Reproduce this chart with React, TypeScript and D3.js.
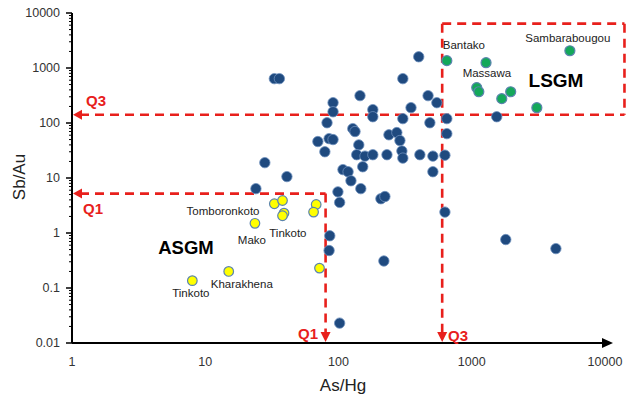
import React from "react";
import * as d3 from "d3";

const W = 631;
const H = 396;

// [As/Hg, Sb/Au]
const bluePoints: [number, number][] = [
  [33, 640], [36, 640], [28, 19], [24, 6.4], [41, 10.6], [70, 46], [85, 52], [91, 50],
  [79, 30], [82, 101], [91, 234], [91, 160], [145, 314], [128, 79], [133, 70], [142, 40],
  [137, 26.5], [158, 25], [181, 26.5], [181, 175], [181, 130], [152, 16], [108, 14.2],
  [118, 13], [124, 8.9], [147, 6.4], [99, 5.6], [102, 3.6], [208, 4.2], [223, 4.6],
  [86, 0.89], [85, 0.48], [102, 0.023], [219, 0.31], [239, 61], [274, 67], [289, 48],
  [304, 120], [304, 640], [400, 1600], [350, 190], [470, 314], [547, 234], [485, 101],
  [299, 31], [231, 26.5], [304, 23], [408, 26.5], [511, 25], [511, 13], [629, 26],
  [650, 120], [650, 64], [629, 2.4], [1540, 130], [1800, 0.76], [4280, 0.52],
];

const yellowPoints: [number, number][] = [
  [33, 3.4], [38, 3.9], [39, 2.3], [38, 2.06], [23.6, 1.5], [15, 0.2], [8, 0.136],
  [68, 3.3], [65, 2.4], [72, 0.23],
];

const greenPoints: [number, number][] = [
  [650, 1360], [1280, 1250], [5450, 2060], [1090, 440], [1130, 370], [1680, 277],
  [1960, 370], [3080, 190],
];

const xTicks = [1, 10, 100, 1000, 10000];
const yTicks = [0.01, 0.1, 1, 10, 100, 1000, 10000];

const Q1x = 80;
const Q3x = 600;
const Q1y = 5.2;
const Q3y = 141;
const boxTop = 6400;
const boxRight = 14000;

// site labels anchored in data space: [text, As/Hg, Sb/Au]
const siteLabels: [string, number, number][] = [
  ["Bantako", 873, 2650],
  ["Sambarabougou", 5260, 3550],
  ["Massawa", 1300, 820],
  ["Tomboronkoto", 13.6, 2.54],
  ["Mako", 22.4, 0.755],
  ["Tinkoto", 41.7, 1.01],
  ["Tinkoto", 7.8, 0.082],
  ["Kharakhena", 18.8, 0.12],
];

const RED = "#e8201c";
const FONT = "'Liberation Sans', Arial, sans-serif";

export default function App() {
  const x = d3.scaleLog().domain([1, 10000]).range([72, 605]);
  const y = d3.scaleLog().domain([0.01, 10000]).range([343, 13]);

  const minorY: number[] = [];
  for (let e = -2; e < 4; e++) {
    for (let k = 2; k <= 9; k++) minorY.push(k * Math.pow(10, e));
  }

  const dash = "9,6";
  const sw = 2.6;

  const arrowLeft = (px: number, py: number) =>
    `M${px},${py} L${px + 9},${py - 5} L${px + 9},${py + 5} Z`;
  const arrowDown = (px: number, py: number) =>
    `M${px},${py} L${px - 5},${py - 10} L${px + 5},${py - 10} Z`;

  const axisY = y(0.01);
  const axisX = x(1);

  return (
    <svg
      width={W}
      height={H}
      style={{ position: "absolute", left: 0, top: 0, background: "#fff" }}
      fontFamily={FONT}
    >
      {/* y axis */}
      <line x1={axisX} x2={axisX} y1={y(10000)} y2={axisY} stroke="#000" strokeWidth={2} />
      {minorY.map((v, i) => (
        <line key={"m" + i} x1={axisX - 3} x2={axisX} y1={y(v)} y2={y(v)} stroke="#000" strokeWidth={1} />
      ))}
      {yTicks.map((v) => (
        <g key={"yt" + v}>
          <line x1={axisX - 6} x2={axisX} y1={y(v)} y2={y(v)} stroke="#000" strokeWidth={1.5} />
          <text x={60} y={y(v)} dy="0.35em" textAnchor="end" fontSize={12.5} fill="#333">
            {String(v)}
          </text>
        </g>
      ))}
      {/* x axis */}
      <line x1={axisX} x2={604} y1={axisY} y2={axisY} stroke="#000" strokeWidth={2} />
      <path d={`M613,${axisY} L602,${axisY - 5} L602,${axisY + 5} Z`} fill="#000" />
      {xTicks.map((v) => (
        <text key={"xt" + v} x={x(v)} y={366} textAnchor="middle" fontSize={12.5} fill="#333">
          {String(v)}
        </text>
      ))}
      <text x={343} y={391} textAnchor="middle" fontSize={17} fill="#222">As/Hg</text>
      <text
        transform={`translate(25,${177}) rotate(-90)`}
        textAnchor="middle"
        fontSize={17}
        fill="#222"
      >
        Sb/Au
      </text>

      {/* Q3 horizontal + LSGM box */}
      <line x1={axisX + 8} x2={x(boxRight)} y1={y(Q3y)} y2={y(Q3y)} stroke={RED} strokeWidth={sw} strokeDasharray={dash} />
      <path d={arrowLeft(axisX + 1, y(Q3y))} fill={RED} />
      <line x1={x(Q3x)} x2={x(boxRight)} y1={y(boxTop)} y2={y(boxTop)} stroke={RED} strokeWidth={sw} strokeDasharray={dash} />
      <line x1={x(boxRight)} x2={x(boxRight)} y1={y(boxTop)} y2={y(Q3y)} stroke={RED} strokeWidth={sw} strokeDasharray={dash} />
      <line x1={x(Q3x)} x2={x(Q3x)} y1={y(boxTop)} y2={axisY - 9} stroke={RED} strokeWidth={sw} strokeDasharray={dash} />
      <path d={arrowDown(x(Q3x), axisY - 1)} fill={RED} />

      {/* Q1 */}
      <line x1={axisX + 8} x2={x(Q1x)} y1={y(Q1y)} y2={y(Q1y)} stroke={RED} strokeWidth={sw} strokeDasharray={dash} />
      <path d={arrowLeft(axisX + 1, y(Q1y))} fill={RED} />
      <line x1={x(Q1x)} x2={x(Q1x)} y1={y(Q1y)} y2={axisY - 9} stroke={RED} strokeWidth={sw} strokeDasharray={dash} />
      <path d={arrowDown(x(Q1x), axisY - 1)} fill={RED} />

      <text x={86} y={106} fontSize={15} fontWeight="bold" fill={RED}>Q3</text>
      <text x={83} y={214} fontSize={15} fontWeight="bold" fill={RED}>Q1</text>
      <text x={298} y={339} fontSize={15} fontWeight="bold" fill={RED}>Q1</text>
      <text x={448} y={341} fontSize={15} fontWeight="bold" fill={RED}>Q3</text>

      {/* points */}
      {bluePoints.map((d, i) => (
        <circle key={"b" + i} cx={x(d[0])} cy={y(d[1])} r={5.2} fill="#1f4a7f" stroke="#6d8fbd" strokeWidth={0.8} />
      ))}
      {yellowPoints.map((d, i) => (
        <circle key={"y" + i} cx={x(d[0])} cy={y(d[1])} r={4.8} fill="#ffff00" stroke="#5b84ae" strokeWidth={1.2} />
      ))}
      {greenPoints.map((d, i) => (
        <circle key={"g" + i} cx={x(d[0])} cy={y(d[1])} r={5} fill="#14a85a" stroke="#5b84ae" strokeWidth={1.2} />
      ))}

      {/* site labels */}
      {siteLabels.map((l, i) => (
        <text key={"l" + i} x={x(l[1])} y={y(l[2])} dy="0.35em" textAnchor="middle" fontSize={11.5} fill="#222">
          {l[0]}
        </text>
      ))}
      <text x={556} y={87} textAnchor="middle" fontSize={19} fontWeight="bold" fill="#000">LSGM</text>
      <text x={186} y={254} textAnchor="middle" fontSize={18.5} fontWeight="bold" fill="#000">ASGM</text>
    </svg>
  );
}
